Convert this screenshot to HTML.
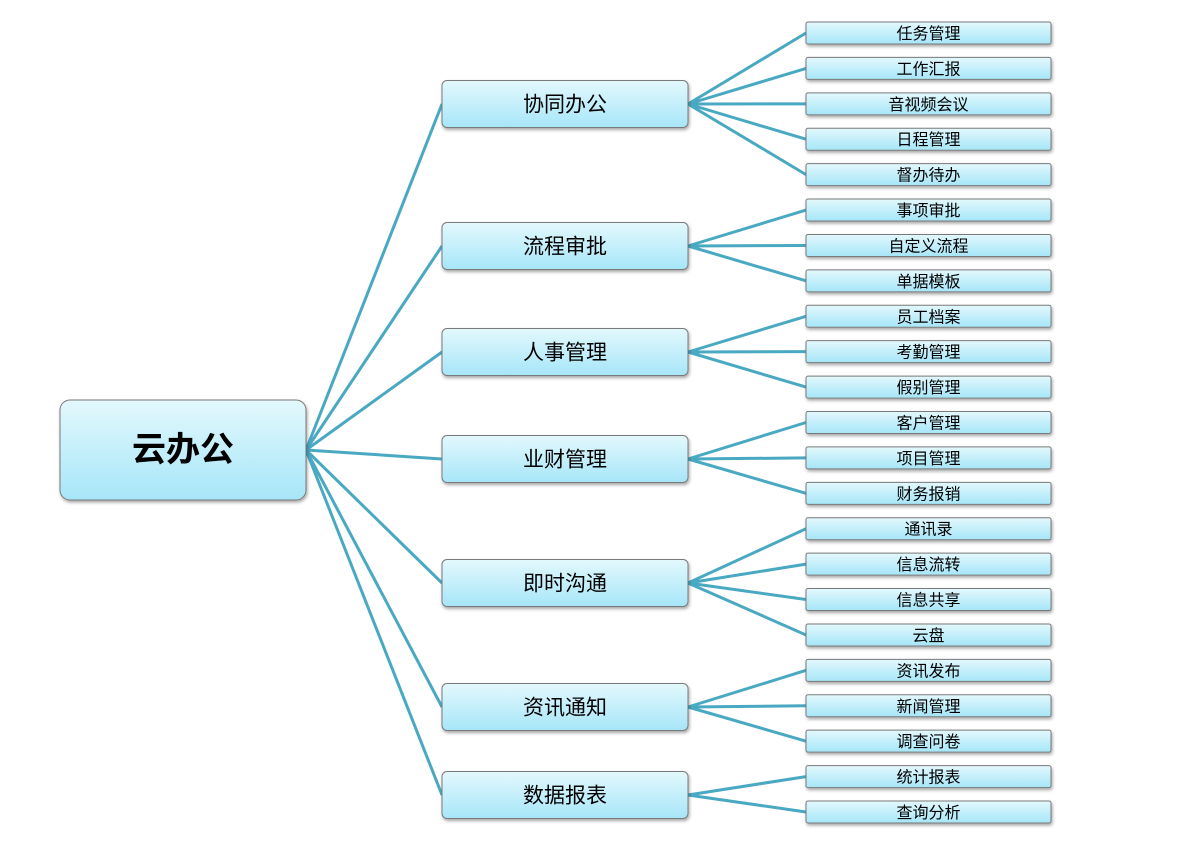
<!DOCTYPE html>
<html><head><meta charset="utf-8"><style>
body{margin:0;background:#fff;}
svg text{font-family:"Liberation Sans","Noto Sans CJK SC",sans-serif;fill:#000;text-anchor:middle;dominant-baseline:central;}
</style></head><body>
<svg width="1181" height="854" xmlns="http://www.w3.org/2000/svg">
<defs>
<linearGradient id="g" x1="0" y1="0" x2="0" y2="1"><stop offset="0" stop-color="#e3f8fd"/><stop offset="1" stop-color="#a6e6f8"/></linearGradient>
<filter id="s" x="-10%" y="-10%" width="120%" height="140%"><feDropShadow dx="1" dy="2" stdDeviation="1.5" flood-color="#000" flood-opacity="0.35"/></filter>
</defs>
<g id="lines" stroke="#4aa9c2" stroke-width="3" fill="none"></g>
<g id="boxes"></g>
</svg>
<script>
var mids=[["协同办公",104,["任务管理","工作汇报","音视频会议","日程管理","督办待办"]],
["流程审批",246,["事项审批","自定义流程","单据模板"]],
["人事管理",352,["员工档案","考勤管理","假别管理"]],
["业财管理",459,["客户管理","项目管理","财务报销"]],
["即时沟通",583,["通讯录","信息流转","信息共享","云盘"]],
["资讯通知",707,["资讯发布","新闻管理","调查问卷"]],
["数据报表",795,["统计报表","查询分析"]]];
var L=document.getElementById('lines'),B=document.getElementById('boxes'),ns="http://www.w3.org/2000/svg";
function line(x1,y1,x2,y2){var l=document.createElementNS(ns,'line');l.setAttribute('x1',x1);l.setAttribute('y1',y1);l.setAttribute('x2',x2);l.setAttribute('y2',y2);L.appendChild(l);}
function box(x,y,w,h,r,t,fs,dy,fw){var g=document.createElementNS(ns,'g');g.innerHTML='<rect x="'+x+'" y="'+y+'" width="'+w+'" height="'+h+'" rx="'+r+'" fill="url(#g)" stroke="#7a7a7a" stroke-width="1" filter="url(#s)"/><text x="'+(x+w/2)+'" y="'+(y+h/2+dy)+'" font-size="'+fs+'" font-weight="'+fw+'">'+t+'</text>';B.appendChild(g);}
box(60,400,246,100,10,"云办公",34,0,"bold");
var leafY=33,step=(812-33)/22;
mids.forEach(function(m){line(306,450,442,m[1]);box(442,m[1]-23.5,246,47,5,m[0],21,1,"normal");
m[2].forEach(function(t){line(688,m[1],806,leafY);box(806,leafY-11,245,22,2,t,16,1.5,"normal");leafY+=step;});});
</script>
</body></html>
